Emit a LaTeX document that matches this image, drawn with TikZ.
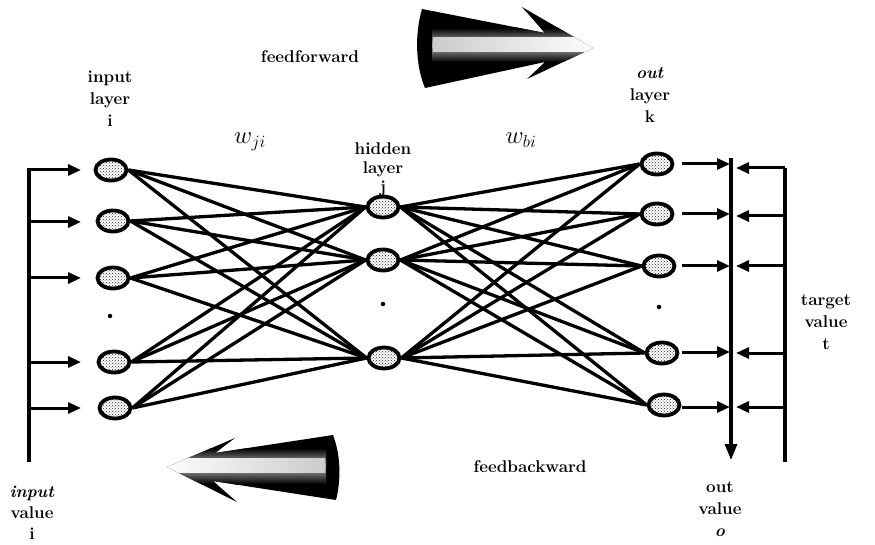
\documentclass[tikz,border=0pt]{standalone}
\usetikzlibrary{shapes.geometric,patterns,arrows.meta}
\begin{document}
\begin{tikzpicture}[x=1pt,y=-1pt,
  neuron/.style={ellipse, draw, line width=3.8pt, minimum width=31pt, minimum height=21pt,
    inner sep=0pt, preaction={fill=white}, pattern=crosshatch dots, pattern color=black!85},
  link/.style={line width=3.3pt},
  feed/.style={line width=3pt, -{Triangle[length=13pt,width=11pt]}},
  rail/.style={line width=3.2pt},
  lbl/.style={font=\fontsize{17}{22}\selectfont\bfseries, align=center, inner sep=0pt},
  wlbl/.style={font=\fontsize{24}{24}\selectfont, inner sep=0pt},
  dot/.style={circle, fill, inner sep=0pt, minimum size=4.5pt},
]
\useasboundingbox (0,0) rectangle (875,545);

% ---- layers ----
\node[neuron] (i1) at (111,170) {};
\node[neuron] (i2) at (113,221) {};
\node[neuron] (i3) at (113,278) {};
\node[neuron] (i4) at (114,362) {};
\node[neuron] (i5) at (115,408) {};
\node[dot] (id) at (110,316) {};

\node[neuron] (h1) at (383,207) {};
\node[neuron] (h2) at (383,260) {};
\node[neuron] (h3) at (384,358) {};
\node[dot] (hd) at (383,304) {};

\node[neuron] (o1) at (657,164) {};
\node[neuron] (o2) at (657,214) {};
\node[neuron] (o3) at (659,266) {};
\node[neuron] (o4) at (662,353) {};
\node[neuron] (o5) at (664,405) {};
\node[dot] (od) at (659,307) {};

% ---- weights ----
\foreach \a in {i1,i2,i3,i4,i5}
  \foreach \b in {h1,h2,h3}
    \draw[link] (\a.east) -- (\b.west);
\foreach \a in {h1,h2,h3}
  \foreach \b in {o1,o2,o3,o4,o5}
    \draw[link] (\a.east) -- (\b.west);

% ---- input rail ----
\coordinate (inTop) at (29,168);
\coordinate (inBot) at (29,462);
\draw[rail] (inTop) -- (inBot);
\foreach \n/\y in {1/170,2/222,3/278,4/362,5/408}{
  \coordinate (ia\n) at (29,\y);
  \coordinate (ib\n) at (81,\y);
  \draw[feed] (ia\n) -- (ib\n);
}

% ---- output rail ----
\coordinate (outTop) at (731,158);
\coordinate (outBot) at (731,460);
\draw[rail, -{Triangle[length=16pt,width=12pt]}] (outTop) -- (outBot);
\foreach \n/\y in {1/164,2/214,3/266,4/352,5/407}{
  \coordinate (oa\n) at (682,\y);
  \coordinate (ob\n) at (730,\y);
  \draw[feed] (oa\n) -- (ob\n);
}

% ---- target rail ----
\coordinate (tTop) at (785,168);
\coordinate (tBot) at (785,462);
\draw[rail] (tTop) -- (tBot);
\foreach \n/\y in {1/168,2/216,3/266,4/353,5/407}{
  \coordinate (ta\n) at (785,\y);
  \coordinate (tb\n) at (736,\y);
  \draw[feed] (ta\n) -- (tb\n);
}

% ---- labels ----
\node[lbl] (lin) at (110,99) {input\\layer\\i};
\node[lbl, font=\fontsize{17}{19}\selectfont\bfseries] (lhid) at (383,169) {hidden\\layer\\j};
\node[lbl] (lout) at (650,95) {\textit{out}\\layer\\k};
\node[lbl] (ltar) at (826,322) {target\\value\\t};
\node[lbl, font=\fontsize{17}{21}\selectfont\bfseries] (linv) at (32,513) {\textit{input}\\value\\i};
\node[lbl] (loutv) at (720,509) {out\\value\\\textit{o}};
\node[lbl] (lff) at (310,57) {feedforward};
\node[lbl] (lfb) at (530,467) {feedbackward};
\node[wlbl] (wji) at (250,142) {$w_{ji}$};
\node[wlbl] (wbi) at (521,140) {$w_{bi}$};

% ---- feedforward arrow ----
\begin{scope}
  \path[clip] (422,9) -- (545,33) -- (522,7) -- (593,48) -- (527,79) -- (545,62)
     -- (425,88) .. controls (415,64) and (415,33) .. cycle;
  \fill[black] (400,0) rectangle (600,95);
  \shade[top color=black, bottom color=black, middle color=gray!60] (432,28) rectangle (600,62);
  \shade[left color=gray!40, right color=white] (433,38) rectangle (600,52);
\end{scope}

% ---- feedbackward arrow ----
\begin{scope}
  \path[clip] (167,467) -- (235,438) -- (215,453) -- (333,435)
     .. controls (341,456) and (341,480) .. (336,500) -- (213,481) -- (237,502) -- cycle;
  \fill[black] (160,430) rectangle (350,505);
  \shade[top color=black, bottom color=black, middle color=gray!60] (160,448) rectangle (326,484);
  \shade[left color=white, right color=gray!40] (160,458) rectangle (325,472);
\end{scope}
\end{tikzpicture}
\end{document}
